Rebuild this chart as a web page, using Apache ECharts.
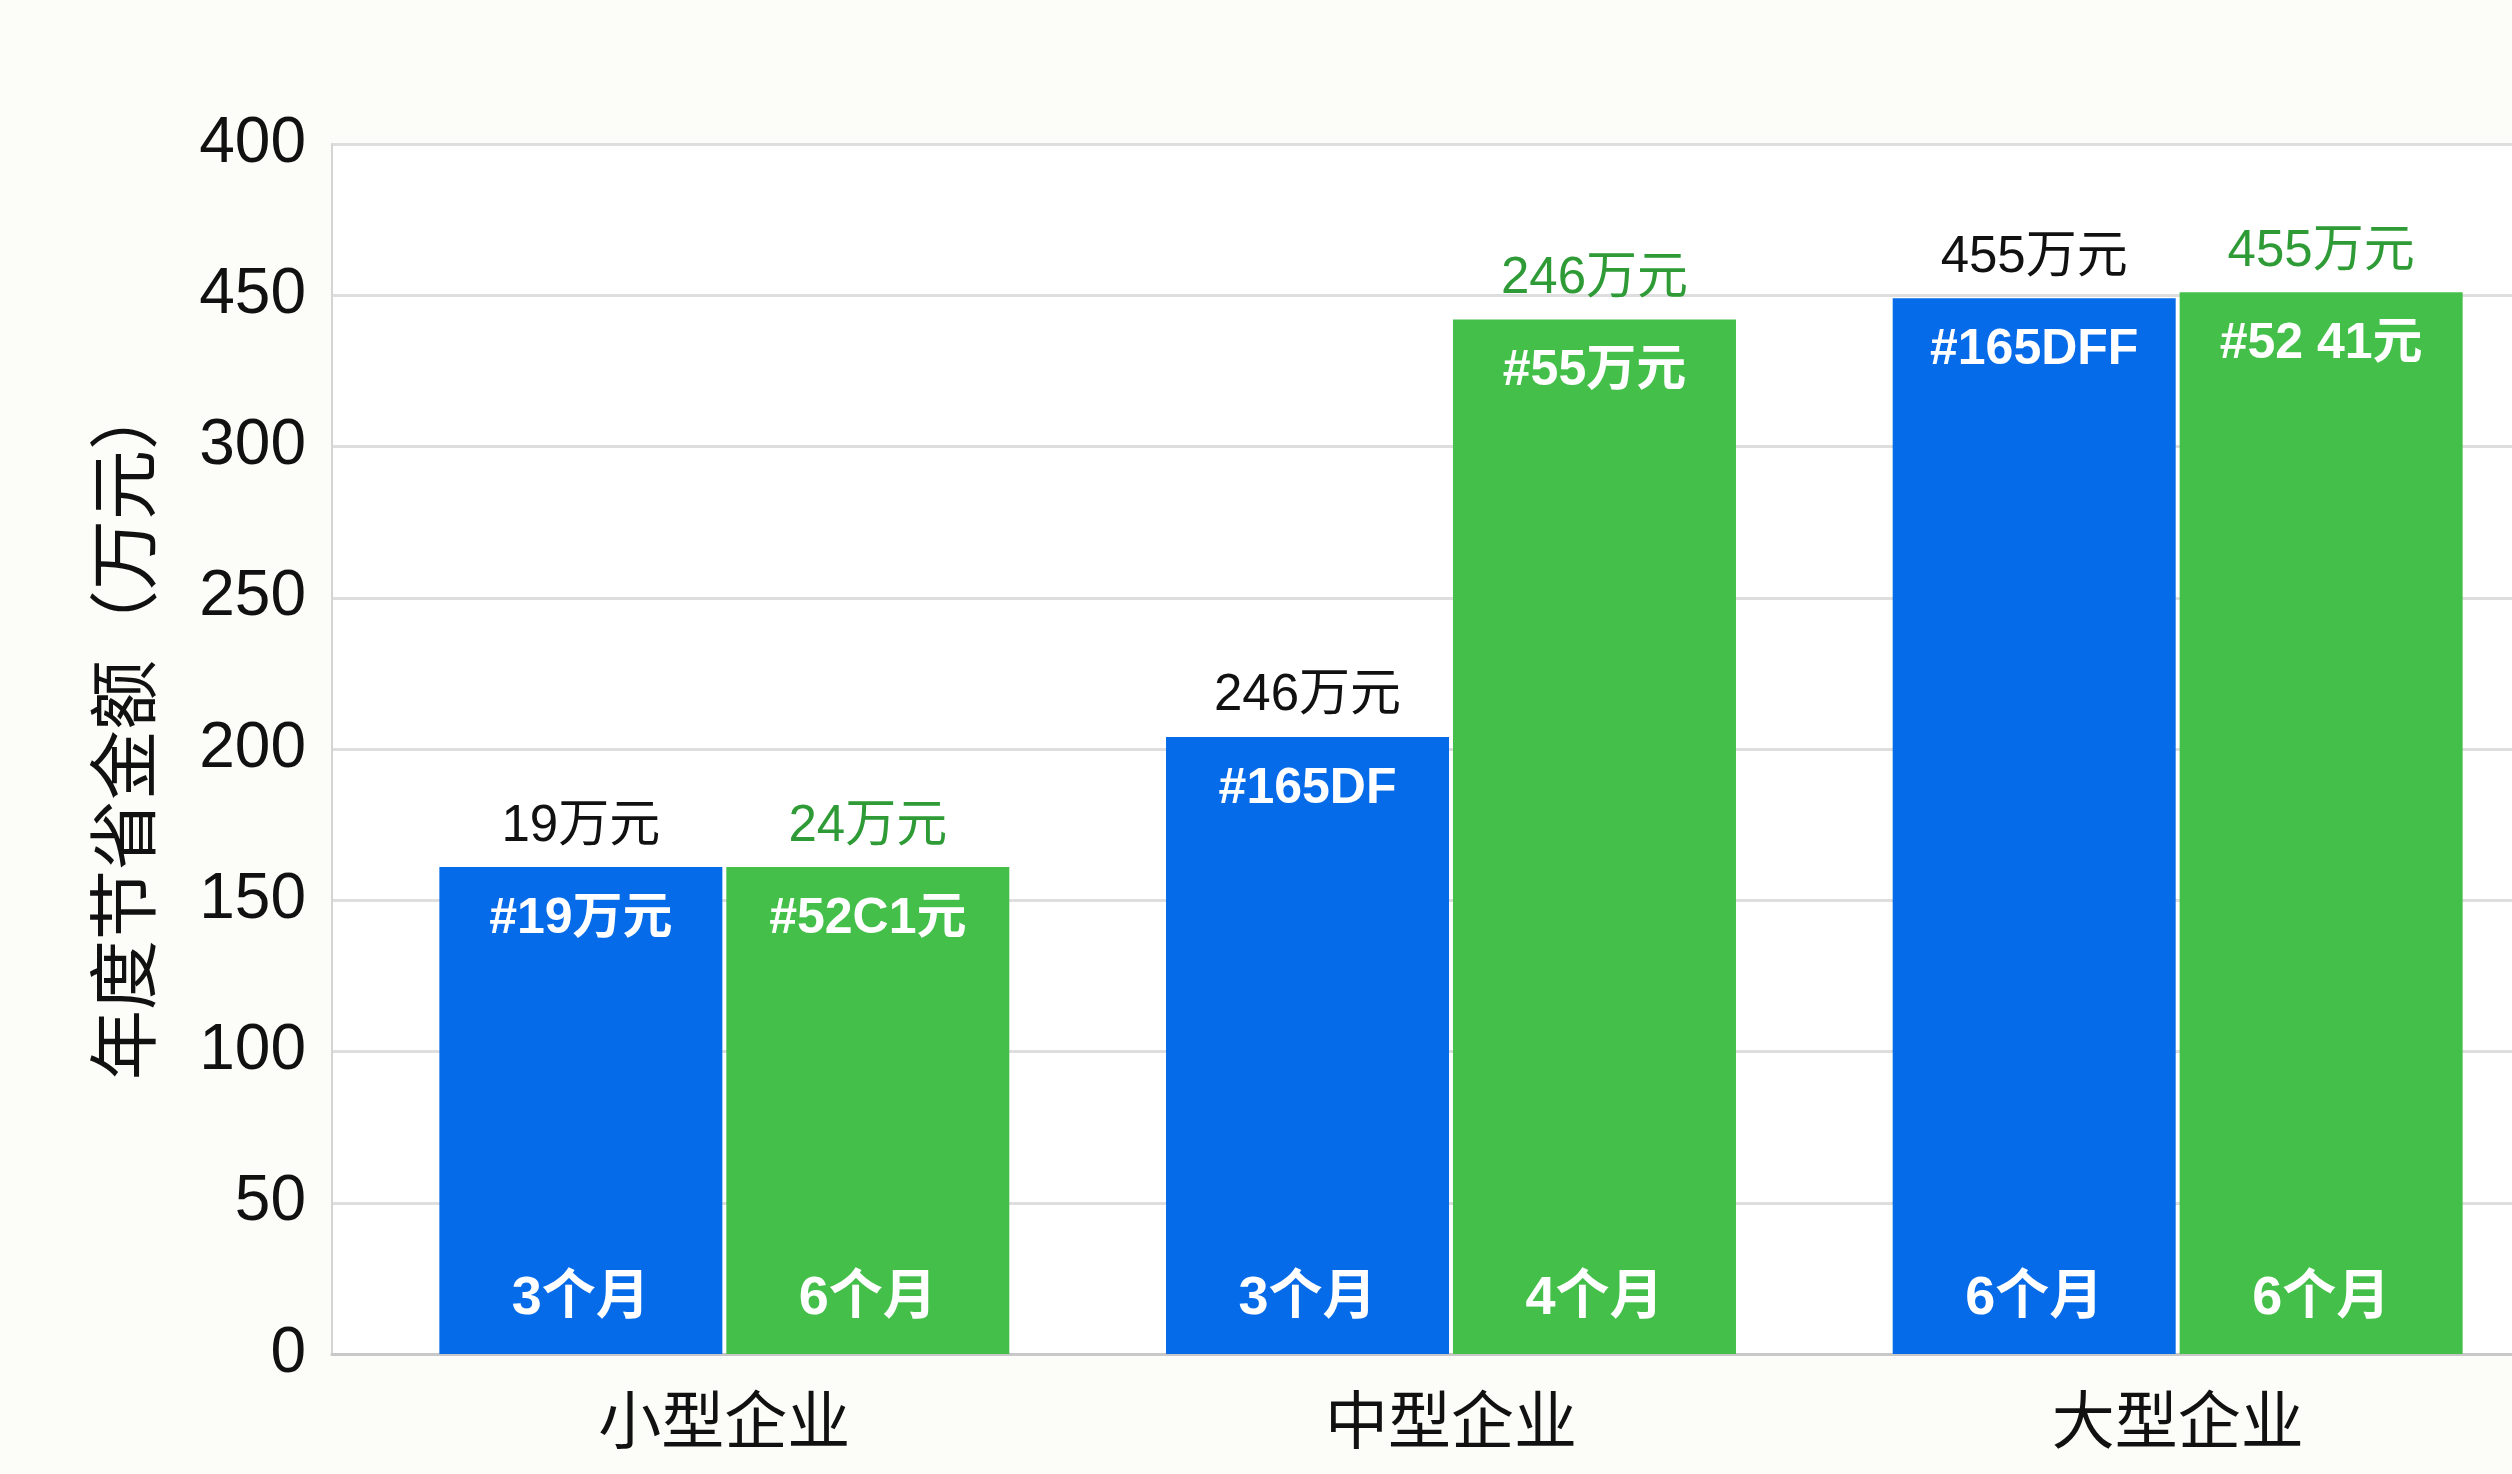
<!DOCTYPE html>
<html>
<head>
<meta charset="utf-8">
<script src="https://cdn.jsdelivr.net/npm/echarts@6/dist/echarts.min.js"></script>
<style>
html,body{margin:0;padding:0;background:#fcfcf8;overflow:hidden;}
#main{width:2541px;height:1474px;}
</style>
</head>
<body>
<div id="main"></div>
<script>
var categories=['小型企业','中型企业','大型企业'];
var blueValues=[161,204,349];
var greenValues=[161,342,351];
var blueTopText=['19万元','246万元','455万元'];
var greenTopText=['24万元','246万元','455万元'];
var blueInnerText=['#19万元','#165DF','#165DFF'];
var greenInnerText=['#52C1元','#55万元','#52 41元'];
var blueMonths=['3个月','3个月','6个月'];
var greenMonths=['6个月','4个月','6个月'];
var yTickLabels=['0','50','100','150','200','250','300','450','400'];   //原图刻度就是这样写的

var blue='#066BE8';
var green='#44C04A';
var font="'Liberation Sans','Noto Sans CJK SC',sans-serif";

// 画布比窗口宽29px，最右边那组柱子的类目带伸出窗口外，跟原图一致
var dom=document.getElementById('main');
var myChart=echarts.init(dom);

function pick(arr){
  return function(p){return arr[p.dataIndex];};
}

// 一个柱子三个标签，所以叠了三条x轴，每条一组柱子
function barPair(axisIdx,blueLabel,greenLabel,visible){
  return [{
    name:'blue'+axisIdx,
    type:'bar',
    xAxisIndex:axisIdx,
    yAxisIndex:1,
    barWidth:283,
    barGap:'1.4%',
    data:blueValues,
    itemStyle:{color:visible?blue:'rgba(0,0,0,0)'},
    label:blueLabel,
    silent:!visible
  },{
    name:'green'+axisIdx,
    type:'bar',
    xAxisIndex:axisIdx,
    yAxisIndex:1,
    barWidth:283,
    barGap:'1.4%',
    data:greenValues,
    itemStyle:{color:visible?green:'rgba(0,0,0,0)'},
    label:greenLabel,
    silent:!visible
  }];
}

var innerLbl=function(arr){
  return {show:true,position:'insideTop',distance:27,formatter:pick(arr),
    color:'#fff',fontSize:50,fontWeight:'bold',fontFamily:font};
};
var topLbl=function(arr,c){
  return {show:true,position:'top',distance:15,formatter:pick(arr),
    color:c,fontSize:51,fontFamily:font};
};
var monthLbl=function(arr){
  return {show:true,position:'insideBottom',distance:28,formatter:pick(arr),
    color:'#fff',fontSize:54,fontWeight:'bold',fontFamily:font};
};

var hiddenCat=function(){
  return {type:'category',gridIndex:1,data:categories,show:false};
};

var option={
  backgroundColor:'#fcfcf8',
  animation:false,
  grid:[
    {left:332,right:29,top:144,bottom:120,show:true,backgroundColor:'#ffffff',borderWidth:0},
    {left:361,right:0,top:144,bottom:120}
  ],
  xAxis:[
    {
      type:'category',
      gridIndex:1,
      data:categories,
      axisLine:{show:false},
      axisTick:{show:false},
      axisLabel:{margin:40,fontSize:63,color:'#111',fontFamily:font}
    },
    hiddenCat(),
    hiddenCat(),
    {
      type:'value',
      gridIndex:0,
      min:0,max:1,
      axisLine:{show:true,onZero:false,lineStyle:{color:'#c8c8c8',width:3}},
      axisTick:{show:false},
      axisLabel:{show:false},
      splitLine:{show:false}
    }
  ],
  yAxis:[
    {
      type:'value',
      gridIndex:0,
      min:0,max:400,interval:50,
      name:'年度节省金额（万元）',
      nameLocation:'middle',
      nameGap:166,
      nameTextStyle:{fontSize:70,color:'#111',fontFamily:font,padding:[0,0,0,38]},
      axisLine:{show:true,lineStyle:{color:'#d4d4d4',width:2}},
      axisTick:{show:false},
      axisLabel:{
        margin:26,fontSize:64,color:'#111',fontFamily:font,
        formatter:function(v){return yTickLabels[Math.round(v/50)];}
      },
      splitLine:{show:true,lineStyle:{color:'#dedede',width:3}}
    },
    {type:'value',gridIndex:1,min:0,max:400,show:false}
  ],
  series:[].concat(
    barPair(0,innerLbl(blueInnerText),innerLbl(greenInnerText),true),
    barPair(1,topLbl(blueTopText,'#111'),topLbl(greenTopText,'#2E9B36'),false),
    barPair(2,monthLbl(blueMonths),monthLbl(greenMonths),false)
  )
};

myChart.setOption(option);
</script>
</body>
</html>
